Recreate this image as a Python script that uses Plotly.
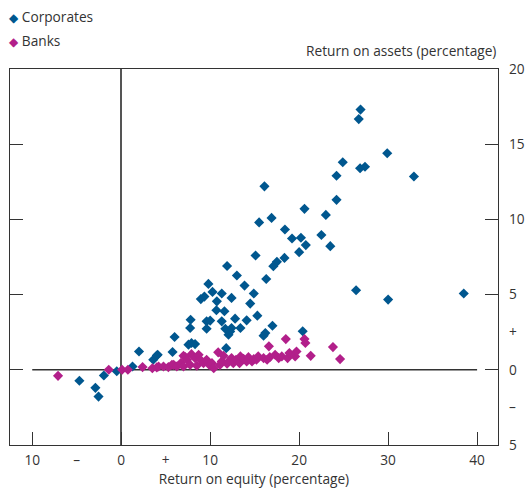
import plotly.graph_objects as go

# ---- data ----
corp_roe = [-4.7, -2.9, -2.55, -1.95, -0.5, 1.27, 2.0, 3.6, 4.0, 4.1, 5.77, 6.0, 7.56, 7.9, 8.3,
            7.75, 7.8, 8.95, 9.35, 9.8, 10.26, 10.75, 10.7, 9.6, 10.0, 9.6, 11.9, 11.3, 11.6, 11.8,
            13.0, 13.86, 12.4, 14.9, 14.5, 15.3, 11.3, 12.8, 14.1, 11.7, 12.4, 13.4, 12.06, 12.25,
            17.0, 16.2, 16.0, 20.4, 15.1, 16.3, 17.1, 17.5, 18.35, 20.0, 15.5, 16.9, 18.4, 19.2,
            20.2, 20.75, 22.5, 23.5, 16.1, 20.6, 23.0, 24.2, 24.2, 24.9, 26.9, 26.7, 29.9, 26.85,
            27.4, 32.9, 26.4, 30.0, 38.5]
corp_roa = [-0.73, -1.2, -1.78, -0.38, -0.1, 0.22, 1.22, 0.67, 0.95, 1.0, 1.18, 2.18, 1.67, 1.78, 1.71,
            2.78, 3.33, 4.7, 4.87, 5.71, 5.18, 4.55, 3.96, 3.22, 3.27, 2.73, 6.9, 5.07, 3.89, 1.44,
            6.27, 5.6, 4.78, 5.07, 4.4, 3.6, 3.22, 3.4, 3.29, 2.73, 2.78, 2.78, 2.33, 2.55,
            2.93, 2.44, 2.27, 2.56, 7.6, 6.04, 6.89, 7.18, 7.44, 7.82, 9.8, 10.1, 9.33, 8.73,
            8.78, 8.29, 8.96, 8.22, 12.2, 10.7, 10.3, 11.3, 12.9, 13.8, 17.3, 16.67, 14.4, 13.4,
            13.5, 12.85, 5.29, 4.67, 5.07]

bank_roe = [-7.1, -1.4, 0.1, 0.75, 2.4, 3.5, 4.0, 4.2, 4.75, 5.3, 5.7, 5.9, 6.25, 6.7, 7.0, 7.2,
            7.0, 7.4, 7.75, 7.9, 8.3, 8.5, 8.7, 8.9, 9.25, 9.6, 9.9, 10.2, 10.4, 10.9, 11.1, 11.3,
            11.5, 11.9, 12.06, 12.4, 12.6, 12.9, 13.3, 13.4, 13.75, 14.1, 14.3, 14.7, 14.9, 15.2,
            15.4, 16.0, 16.4, 16.6, 16.7, 17.3, 17.7, 18.05, 18.5, 18.7, 18.9, 19.55, 19.7, 20.6,
            20.7, 21.3, 23.8, 24.6]
bank_roa = [-0.4, 0.0, 0.0, 0.0, 0.18, 0.1, 0.16, 0.22, 0.22, 0.18, 0.33, 0.33, 0.22, 0.45, 0.93, 0.85,
            0.22, 0.67, 0.33, 1.04, 0.78, 0.27, 1.0, 0.67, 0.44, 0.67, 0.33, 0.44, 0.11, 1.16, 0.33, 0.56,
            0.93, 0.4, 0.56, 0.78, 0.44, 0.67, 0.44, 0.89, 0.73, 0.56, 0.84, 0.56, 0.71, 0.67,
            0.89, 0.78, 0.67, 1.56, 0.84, 1.0, 0.78, 0.89, 2.04, 0.78, 1.11, 0.89, 1.22, 2.04,
            1.78, 0.93, 1.51, 0.71]

series_names = ["Corporates", "Banks"]
x_tick_vals = [-10, -5, 0, 5, 10, 20, 30, 40]
x_tick_text = ["10", "–", "0", "+", "10", "20", "30", "40"]
x_mark_vals = [-10, 0, 10, 20, 30, 40]
y_tick_vals = [20, 15, 10, 5, 2.5, 0, -2.5, -5]
y_tick_text = ["20", "15", "10", "5", "+", "0", "–", "5"]
y_mark_vals = [20, 15, 10, 5, 0, -5]

X_RANGE = [-12.5, 42.35]
Y_RANGE = [-5, 20]

BLUE = "#00578f"
MAGENTA = "#b21f8a"
INK = "#333333"
FONT = dict(family="Open Sans", size=13.7, color=INK)

# full-window figure; the page's body margin is removed by the post script below
W, H = 525, 490
ML, MR, MT, MB = 10, 27, 69, 45
PW, PH = W - ML - MR, H - MT - MB

fig = go.Figure()
fig.add_trace(go.Scatter(x=corp_roe, y=corp_roa, mode="markers", name=series_names[0],
                         showlegend=False,
                         marker=dict(symbol="diamond", size=7.8, color=BLUE, line=dict(width=0))))
fig.add_trace(go.Scatter(x=bank_roe, y=bank_roa, mode="markers", name=series_names[1],
                         showlegend=False,
                         marker=dict(symbol="diamond", size=7.8, color=MAGENTA, line=dict(width=0))))
# empty trace to host the labelling overlay axes
fig.add_trace(go.Scatter(x=[], y=[], xaxis="x2", yaxis="y2", showlegend=False, hoverinfo="skip"))

# horizontal zero reference line (from -10 to 40)
fig.add_shape(type="line", x0=-10, x1=40, y0=0, y1=0, xref="x", yref="y",
              line=dict(color=INK, width=1.4), layer="below")

# legend drawn as text rows (diamond glyph + label)
legend_ann = []
for i, (name, col) in enumerate(zip(series_names, [BLUE, MAGENTA])):
    cy = 17 + 24 * i  # row centre, px from figure top
    legend_ann.append(dict(
        text=f"<span style='color:{col};font-family:DejaVu Sans;font-size:12px'>◆</span> {name}",
        xref="paper", yref="paper", x=(7 - ML) / PW, y=1 + (MT - cy) / PH,
        xanchor="left", yanchor="middle", showarrow=False, font=FONT))

fig.update_layout(
    width=W, height=H,
    margin=dict(l=ML, r=MR, t=MT, b=MB, autoexpand=False),
    paper_bgcolor="white", plot_bgcolor="white",
    font=FONT,
    showlegend=False,
    xaxis=dict(range=X_RANGE, showgrid=False, showline=True, linecolor=INK, linewidth=1.2,
               mirror=True, ticks="inside", tickvals=x_mark_vals, ticklen=13, tickcolor=INK,
               tickwidth=1.2, showticklabels=False, zeroline=True, zerolinecolor="#555555",
               zerolinewidth=1.6, fixedrange=True),
    yaxis=dict(range=Y_RANGE, side="right", showgrid=False, showline=True, linecolor=INK,
               linewidth=1.2, mirror="ticks", ticks="inside", tickvals=y_mark_vals, ticklen=13,
               tickcolor=INK, tickwidth=1.2, showticklabels=False, zeroline=False, fixedrange=True),
    xaxis2=dict(range=X_RANGE, overlaying="x", anchor="y2", side="bottom", showgrid=False,
                showline=False, zeroline=False, ticks="", tickvals=x_tick_vals, ticktext=x_tick_text,
                tickfont=FONT, ticklabelstandoff=5,
                title=dict(text="Return on equity (percentage)", font=FONT, standoff=6),
                fixedrange=True),
    yaxis2=dict(range=Y_RANGE, overlaying="y", anchor="x2", side="right", showgrid=False,
                showline=False, zeroline=False, ticks="", tickvals=y_tick_vals, ticktext=y_tick_text,
                tickfont=FONT, ticklabelstandoff=10, fixedrange=True),
    annotations=[dict(text="Return on assets (percentage)", xref="paper", yref="paper", x=1.0, y=1.0,
                      xanchor="right", yanchor="bottom", yshift=7, showarrow=False, font=FONT)]
                + legend_ann,
)

fig.write_html("out.html", config={"displayModeBar": False},
               post_script="document.body.style.margin='0';document.body.style.overflow='hidden';")
